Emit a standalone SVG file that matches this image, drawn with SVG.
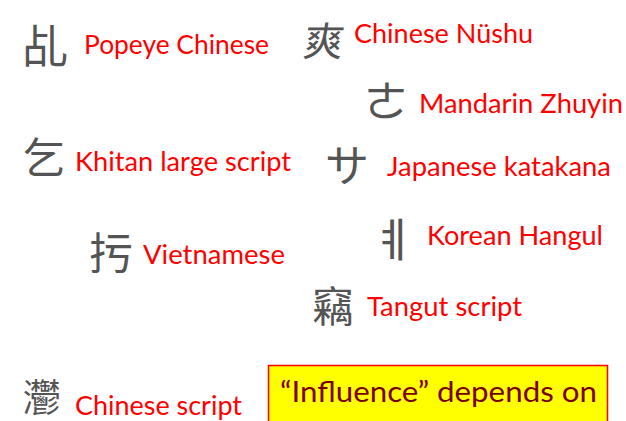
<svg xmlns="http://www.w3.org/2000/svg" width="626" height="421" viewBox="0 0 626 421">
  <style>
    .lbl { font-family: Lato, "Open Sans", "Liberation Sans", sans-serif; font-size: 27.5px; fill: #ff0000; }
    .gly { font-family: "Noto Sans CJK SC", "Noto Sans CJK TC", sans-serif; fill: #2a2a2a; opacity: 0.8; }
    .note { font-family: Lato, "Open Sans", "Liberation Sans", sans-serif; font-size: 29.5px; fill: #7a0000; }
  </style>
  <rect width="626" height="421" fill="#ffffff"/>

  <g id="popeye">
    <text class="gly" x="22" y="63" font-size="46">乩</text>
    <text class="lbl" x="84" y="54.3" textLength="185" lengthAdjust="spacingAndGlyphs">Popeye Chinese</text>
  </g>
  <g id="nushu">
    <text class="gly" x="304" y="56" font-size="40" transform="skewX(-8) translate(6 0)">爽</text>
    <text class="lbl" x="354" y="42.5" textLength="179" lengthAdjust="spacingAndGlyphs">Chinese Nüshu</text>
  </g>
  <g id="zhuyin">
    <text class="gly" x="364" y="118" font-size="44">ㄜ</text>
    <text class="lbl" x="419" y="112.5" textLength="204" lengthAdjust="spacingAndGlyphs">Mandarin Zhuyin</text>
  </g>
  <g id="khitan">
    <text class="gly" x="23" y="173" font-size="42">乞</text>
    <text class="lbl" x="75" y="170.5" textLength="216" lengthAdjust="spacingAndGlyphs">Khitan large script</text>
  </g>
  <g id="katakana">
    <text class="gly" x="325" y="182" font-size="44">サ</text>
    <text class="lbl" x="387" y="176" textLength="224" lengthAdjust="spacingAndGlyphs">Japanese katakana</text>
  </g>
  <g id="vietnamese">
    <text class="gly" x="89" y="270" font-size="44">扝</text>
    <text class="lbl" x="143" y="263.5" textLength="142" lengthAdjust="spacingAndGlyphs">Vietnamese</text>
  </g>
  <g id="hangul">
    <text class="gly" x="372" y="256" font-size="46">ㅖ</text>
    <text class="lbl" x="427" y="245" textLength="176" lengthAdjust="spacingAndGlyphs">Korean Hangul</text>
  </g>
  <g id="tangut">
    <text class="gly" x="312" y="322" font-size="42">竊</text>
    <text class="lbl" x="367" y="315.5" textLength="155" lengthAdjust="spacingAndGlyphs">Tangut script</text>
  </g>
  <g id="chinese">
    <text class="gly" x="23" y="411" font-size="38">灪</text>
    <text class="lbl" x="75" y="415" textLength="167" lengthAdjust="spacingAndGlyphs">Chinese script</text>
  </g>

  <g id="note">
    <rect x="268.5" y="365.5" width="339" height="70" fill="#ffff00" stroke="#ff0000" stroke-width="1.5"/>
    <text class="note" x="280" y="401.5" textLength="317" lengthAdjust="spacingAndGlyphs">“Influence” depends on</text>
  </g>
  <g id="connectors"/>
</svg>
